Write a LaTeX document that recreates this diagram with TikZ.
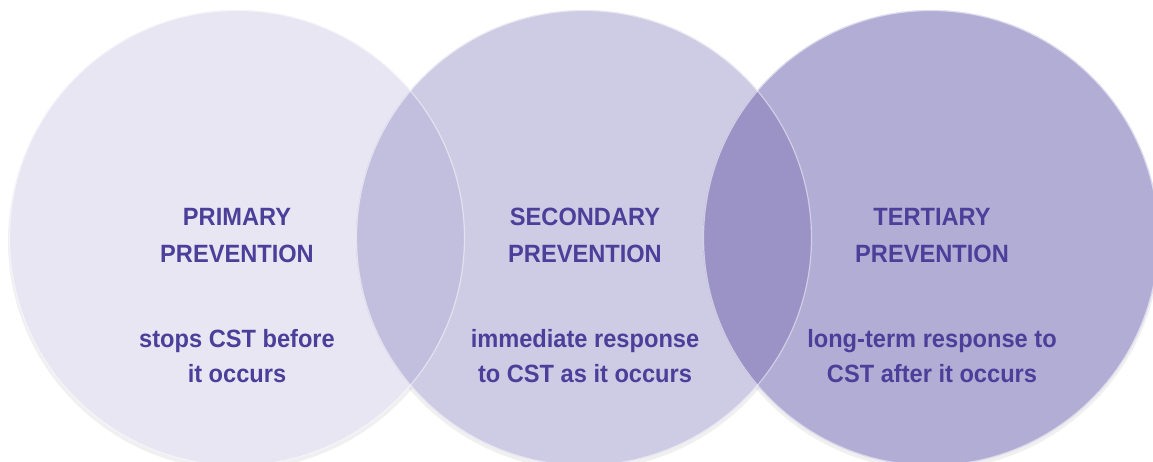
\documentclass[tikz,border=0pt]{standalone}
\usepackage{fontspec}
\setmainfont{Liberation Sans}[FakeStretch=0.945]
\definecolor{cA}{HTML}{E8E6F2}
\definecolor{cB}{HTML}{CECBE4}
\definecolor{cC}{HTML}{B2ADD5}
\definecolor{cAB}{HTML}{C2BEDE}
\definecolor{cBC}{HTML}{9B93C6}
\definecolor{txt}{HTML}{4B3F9A}
\tikzset{
  lbl/.style={anchor=base, text=txt, font=\fontsize{25}{29}\selectfont\bfseries, inner sep=0pt},
  rim/.style={draw=white, draw opacity=0.55, line width=1.2pt}
}
\begin{document}
\begin{tikzpicture}[x=1pt,y=-1pt]
\useasboundingbox (0,0) rectangle (1153,462);
\coordinate (c1) at (237,238);
\coordinate (c2) at (584,238);
\coordinate (c3) at (931,238);
% soft shadows
\foreach \c in {c1,c2,c3}{
  \fill[black, opacity=0.06] ([yshift=-3pt]\c) circle (229);
}
\fill[cA] (c1) circle (228);
\fill[cB] (c2) circle (228);
\fill[cC] (c3) circle (228);
\begin{scope}
  \clip (c1) circle (228);
  \fill[cAB] (c2) circle (228);
\end{scope}
\begin{scope}
  \clip (c2) circle (228);
  \fill[cBC] (c3) circle (228);
\end{scope}
\draw[rim] (c1) circle (227.5);
\draw[rim] (c2) circle (227.5);
\draw[rim] (c3) circle (227.5);
% texts
\node[lbl] (t1a) at (237,226) {PRIMARY};
\node[lbl] (t1b) at (237,262) {PREVENTION};
\node[lbl] (t1c) at (237,347) {stops CST before};
\node[lbl] (t1d) at (237,382) {it occurs};
\node[lbl] (t2a) at (585,226) {SECONDARY};
\node[lbl] (t2b) at (585,262) {PREVENTION};
\node[lbl] (t2c) at (585,347) {immediate response};
\node[lbl] (t2d) at (585,382) {to CST as it occurs};
\node[lbl] (t3a) at (932,226) {TERTIARY};
\node[lbl] (t3b) at (932,262) {PREVENTION};
\node[lbl] (t3c) at (932,347) {long-term response to};
\node[lbl] (t3d) at (932,382) {CST after it occurs};
\end{tikzpicture}
\end{document}
